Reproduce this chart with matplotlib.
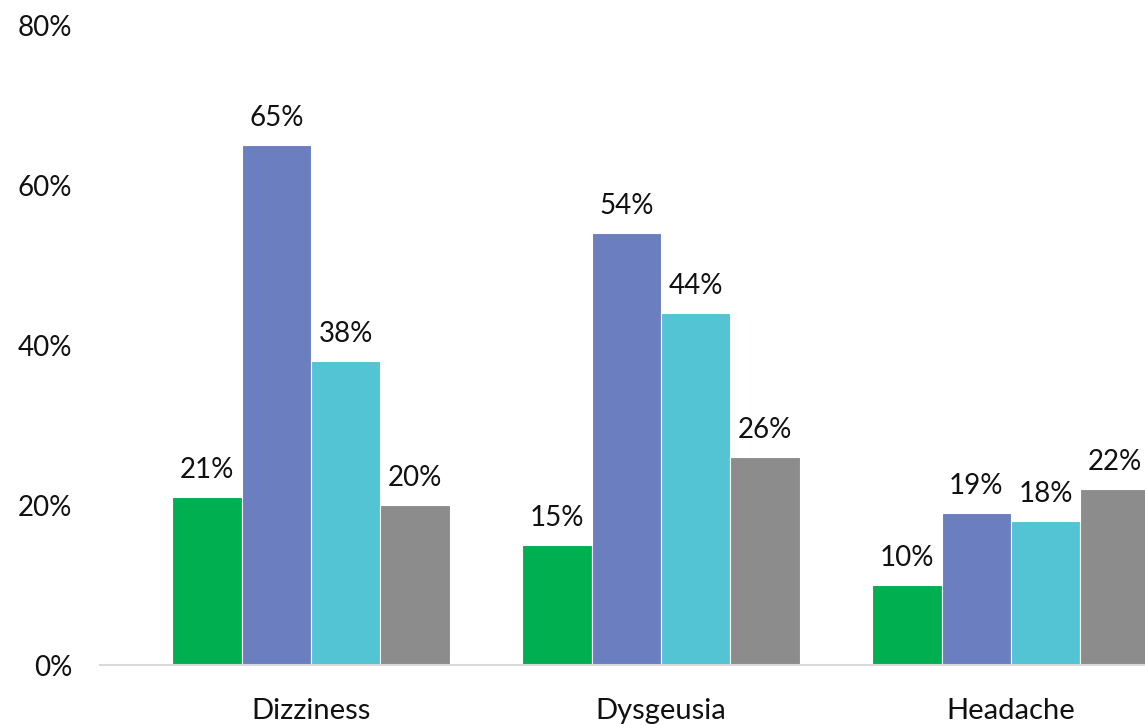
import matplotlib
matplotlib.use("Agg")
import matplotlib.pyplot as plt
import numpy as np

plt.rcParams["font.family"] = ["Lato", "DejaVu Sans"]

symptoms = ["Dizziness", "Dysgeusia", "Headache"]
group_a = [21, 15, 10]
group_b = [65, 54, 19]
group_c = [38, 44, 18]
group_d = [20, 26, 22]

series = [group_a, group_b, group_c, group_d]
colors = ["#00B050", "#6A7EC0", "#52C4D4", "#8C8C8C"]

fig = plt.figure(figsize=(11.45, 7.25), dpi=100)
ax = fig.add_axes([100 / 1145, 60 / 725, 1 - 100 / 1145, 640 / 725])

x = np.arange(len(symptoms))
width = 0.198
for i, (vals, col) in enumerate(zip(series, colors)):
    pos = x + (i - 1.5) * width
    bars = ax.bar(pos, vals, width, color=col, edgecolor="white", linewidth=0.8, zorder=2)
    for b, v in zip(bars, vals):
        ax.annotate(f"{v}%", (b.get_x() + b.get_width() / 2, v),
                    xytext=(0, 10), textcoords="offset points",
                    ha="center", va="bottom", fontsize=20, color="#111111",
                    annotation_clip=False)

ax.set_ylim(0, 80)
ax.set_xlim(-0.603, 2.383)
ax.set_yticks(range(0, 81, 20))
ax.set_yticklabels([f"{t}%" for t in range(0, 81, 20)])
ax.set_xticks(x)
ax.set_xticklabels(symptoms)
ax.tick_params(axis="y", length=0, pad=20, labelsize=20, labelcolor="#111111")
ax.tick_params(axis="x", length=0, pad=24, labelsize=21, labelcolor="#111111")

for s in ["top", "right", "left"]:
    ax.spines[s].set_visible(False)
ax.spines["bottom"].set_color("#D9D9D9")
ax.spines["bottom"].set_linewidth(1.5)

fig.savefig("out.png", dpi=100)
